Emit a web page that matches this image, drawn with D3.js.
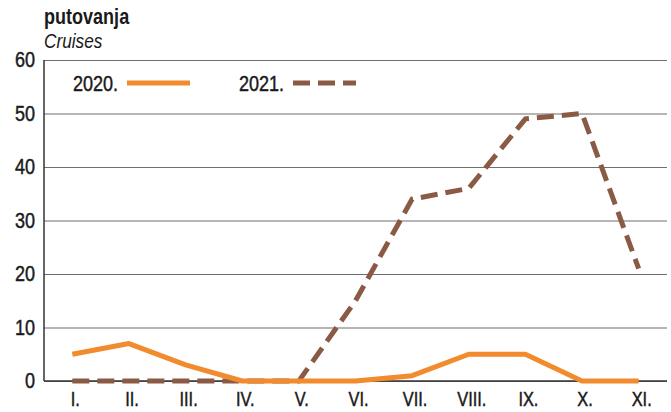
<!DOCTYPE html>
<html>
<head>
<meta charset="utf-8">
<script src="https://cdn.jsdelivr.net/npm/d3@7"></script>
<style>
  body { margin: 0; background: #fff; }
  svg { display: block; font-family: "Liberation Sans", Arial, sans-serif; }
</style>
</head>
<body>
<svg id="chart" width="671" height="412"></svg>
<script>
var months = ["I.", "II.", "III.", "IV.", "V.", "VI.", "VII.", "VIII.", "IX.", "X.", "XI."];
var values2020 = [5, 7, 3, 0, 0, 0, 1, 5, 5, 0, 0];
var values2021 = [0, 0, 0, 0, 0, 15, 34, 36, 49, 50, 21];
var yTicks = [0, 10, 20, 30, 40, 50, 60];

(function () {
  "use strict";
  var svg = d3.select("#chart");
  var m = { left: 44, right: 667, top: 60, bottom: 381 };
  var squeeze = 0.82;

  var x = d3.scalePoint().domain(months).range([m.left, m.right]).padding(0.5);
  var y = d3.scaleLinear().domain([0, 60]).range([m.bottom, m.top]);

  // condensed-looking text, slightly heavier than regular
  function label(g, tx, ty) {
    return g.append("text")
      .attr("transform", "translate(" + tx + "," + ty + ") scale(" + squeeze + ",1)")
      .attr("fill", "#1a1a1a")
      .attr("stroke", "#1a1a1a")
      .attr("stroke-width", 0.45);
  }

  // gridlines
  svg.append("g")
    .attr("transform", "translate(" + m.left + ",0)")
    .call(d3.axisLeft(y).tickValues(yTicks).tickSize(-(m.right - m.left)).tickFormat(""))
    .call(function (g) {
      g.select(".domain").remove();
      g.selectAll("line").attr("stroke", "#6f6f6f").attr("stroke-width", 1.2);
    });

  // y labels
  yTicks.forEach(function (d) {
    label(svg, 35, y(d) + 7).attr("text-anchor", "end").attr("font-size", 22).text(d);
  });

  // axis lines
  svg.append("line").attr("x1", m.left).attr("x2", m.left).attr("y1", m.top).attr("y2", m.bottom)
    .attr("stroke", "#333").attr("stroke-width", 1.5);
  svg.append("line").attr("x1", m.left).attr("x2", m.right).attr("y1", m.bottom).attr("y2", m.bottom)
    .attr("stroke", "#333").attr("stroke-width", 1.5);

  // x labels
  months.forEach(function (d) {
    label(svg, x(d) + 3, 406).attr("text-anchor", "middle").attr("font-size", 20).text(d);
  });

  var line = d3.line()
    .x(function (d, i) { return x(months[i]); })
    .y(function (d) { return y(d); });

  svg.append("path").datum(values2021)
    .attr("d", line)
    .attr("fill", "none")
    .attr("stroke", "#8a5a44")
    .attr("stroke-width", 5)
    .attr("stroke-dasharray", "17,8");

  svg.append("path").datum(values2020)
    .attr("d", line)
    .attr("fill", "none")
    .attr("stroke", "#f28a2e")
    .attr("stroke-width", 5)
    .attr("stroke-linejoin", "round");

  // title
  label(svg, 44, 24).attr("font-size", 22).attr("font-weight", "bold").attr("stroke-width", 0).text("putovanja");
  label(svg, 44, 48).attr("font-size", 21).attr("font-style", "italic").attr("stroke-width", 0).text("Cruises");

  // legend
  var legend = [
    { label: "2020.", color: "#f28a2e", dash: null, tx: 73, lx: 127 },
    { label: "2021.", color: "#8a5a44", dash: "17,8", tx: 239, lx: 293 }
  ];
  legend.forEach(function (l) {
    label(svg, l.tx, 91).attr("font-size", 22).text(l.label);
    svg.append("line").attr("x1", l.lx).attr("x2", l.lx + 63).attr("y1", 83).attr("y2", 83)
      .attr("stroke", l.color).attr("stroke-width", 5)
      .attr("stroke-dasharray", l.dash);
  });
}());
</script>
</body>
</html>
